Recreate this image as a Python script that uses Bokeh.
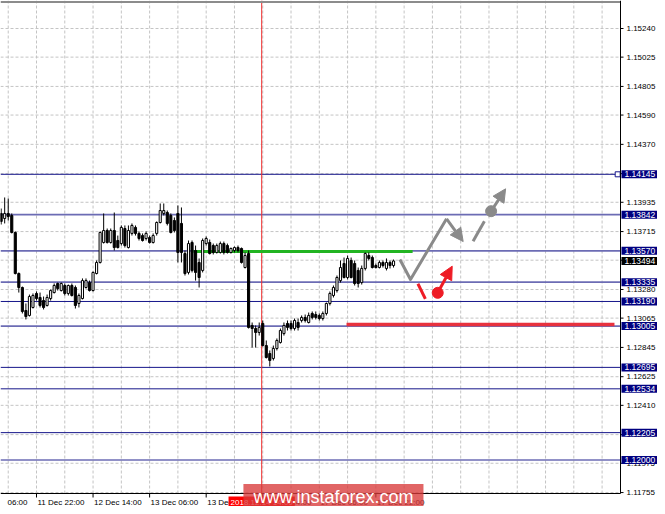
from bokeh.plotting import figure
from bokeh.models import Label, Arrow, NormalHead, Range1d, ColumnDataSource
from bokeh.core.properties import value
from bokeh.embed import file_html
from bokeh.resources import INLINE

# ---------------- data (EURUSD H1, bar index 0 = 11 Dec 22:00) ----------------
first_bar = -10
opens = [1.13851, 1.13813, 1.13851, 1.13836, 1.13708, 1.13400, 1.13295, 1.13122, 1.13085, 1.13145,
         1.13250, 1.13220, 1.13197, 1.13160, 1.13212, 1.13257, 1.13325, 1.13272, 1.13310, 1.13250,
         1.13310, 1.13295, 1.13175, 1.13212, 1.13295, 1.13332, 1.13272, 1.13400, 1.13483, 1.13633,
         1.13723, 1.13633, 1.13723, 1.13648, 1.13625, 1.13738, 1.13595, 1.13701, 1.13746, 1.13701,
         1.13685, 1.13663, 1.13670, 1.13633, 1.13701, 1.13783, 1.13851, 1.13858, 1.13836, 1.13798,
         1.13851, 1.13776, 1.13550, 1.13408, 1.13633, 1.13573, 1.13483, 1.13423, 1.13625, 1.13633,
         1.13610, 1.13558, 1.13558, 1.13625, 1.13610, 1.13558, 1.13573, 1.13595, 1.13588, 1.13445,
         1.13550, 1.13010, 1.12987, 1.12957, 1.13025, 1.12859, 1.12799, 1.12762, 1.12837, 1.12882,
         1.12949, 1.13025, 1.13025, 1.12987, 1.13032, 1.13047, 1.13070, 1.13032, 1.13100, 1.13092,
         1.13085, 1.13062, 1.13100, 1.13175, 1.13235, 1.13272, 1.13347, 1.13475, 1.13370, 1.13498,
         1.13475, 1.13423, 1.13332, 1.13438, 1.13535, 1.13520, 1.13460, 1.13445, 1.13483, 1.13438,
         1.13483, 1.13460]
highs = [1.13888, 1.13971, 1.13963, 1.13851, 1.13716, 1.13408, 1.13302, 1.13175, 1.13242, 1.13250,
         1.13265, 1.13257, 1.13227, 1.13242, 1.13280, 1.13325, 1.13332, 1.13332, 1.13325, 1.13317,
         1.13325, 1.13310, 1.13250, 1.13363, 1.13363, 1.13347, 1.13415, 1.13498, 1.13716, 1.13851,
         1.13738, 1.13738, 1.13858, 1.13685, 1.13761, 1.13761, 1.13761, 1.13776, 1.13761, 1.13716,
         1.13701, 1.13716, 1.13685, 1.13701, 1.13791, 1.13926, 1.13926, 1.13873, 1.13851, 1.13821,
         1.13911, 1.13896, 1.13573, 1.13648, 1.13648, 1.13610, 1.13513, 1.13663, 1.13678, 1.13655,
         1.13625, 1.13625, 1.13640, 1.13640, 1.13625, 1.13595, 1.13603, 1.13610, 1.13595, 1.13558,
         1.13573, 1.13032, 1.13010, 1.13032, 1.13047, 1.12897, 1.12822, 1.12859, 1.12912, 1.12987,
         1.13032, 1.13047, 1.13047, 1.13062, 1.13062, 1.13085, 1.13092, 1.13107, 1.13115, 1.13115,
         1.13100, 1.13115, 1.13182, 1.13265, 1.13310, 1.13385, 1.13498, 1.13520, 1.13535, 1.13520,
         1.13498, 1.13445, 1.13460, 1.13558, 1.13558, 1.13535, 1.13475, 1.13498, 1.13498, 1.13513,
         1.13498, 1.13505]
lows = [1.13768, 1.13776, 1.13798, 1.13701, 1.13393, 1.13257, 1.13100, 1.13055, 1.13077, 1.13137,
        1.13197, 1.13145, 1.13130, 1.13152, 1.13197, 1.13250, 1.13272, 1.13265, 1.13235, 1.13235,
        1.13227, 1.13137, 1.13145, 1.13205, 1.13287, 1.13265, 1.13265, 1.13393, 1.13475, 1.13625,
        1.13625, 1.13625, 1.13573, 1.13588, 1.13610, 1.13595, 1.13588, 1.13685, 1.13685, 1.13648,
        1.13640, 1.13648, 1.13625, 1.13625, 1.13685, 1.13776, 1.13836, 1.13761, 1.13701, 1.13708,
        1.13483, 1.13483, 1.13385, 1.13393, 1.13408, 1.13347, 1.13295, 1.13408, 1.13610, 1.13543,
        1.13543, 1.13550, 1.13550, 1.13543, 1.13550, 1.13550, 1.13558, 1.13558, 1.13475, 1.13438,
        1.12987, 1.12844, 1.12844, 1.12934, 1.12852, 1.12762, 1.12702, 1.12747, 1.12822, 1.12874,
        1.12934, 1.12972, 1.12972, 1.12972, 1.12972, 1.13032, 1.13032, 1.13025, 1.13055, 1.13055,
        1.13047, 1.13047, 1.13085, 1.13160, 1.13220, 1.13257, 1.13332, 1.13363, 1.13355, 1.13363,
        1.13310, 1.13295, 1.13317, 1.13423, 1.13498, 1.13438, 1.13438, 1.13438, 1.13445, 1.13423,
        1.13438, 1.13445]
closes = [1.13791, 1.13851, 1.13828, 1.13708, 1.13400, 1.13295, 1.13115, 1.13077, 1.13227, 1.13235,
          1.13212, 1.13160, 1.13145, 1.13220, 1.13272, 1.13310, 1.13287, 1.13325, 1.13250, 1.13310,
          1.13235, 1.13160, 1.13235, 1.13347, 1.13347, 1.13272, 1.13408, 1.13483, 1.13708, 1.13723,
          1.13633, 1.13723, 1.13595, 1.13595, 1.13746, 1.13610, 1.13723, 1.13761, 1.13701, 1.13663,
          1.13648, 1.13701, 1.13633, 1.13685, 1.13783, 1.13873, 1.13873, 1.13776, 1.13708, 1.13723,
          1.13558, 1.13558, 1.13400, 1.13625, 1.13423, 1.13408, 1.13370, 1.13648, 1.13663, 1.13550,
          1.13558, 1.13610, 1.13625, 1.13558, 1.13558, 1.13588, 1.13595, 1.13573, 1.13483, 1.13535,
          1.12995, 1.12987, 1.12957, 1.12995, 1.12859, 1.12769, 1.12747, 1.12837, 1.12897, 1.12972,
          1.13010, 1.12995, 1.12987, 1.13047, 1.12995, 1.13070, 1.13047, 1.13085, 1.13070, 1.13070,
          1.13062, 1.13100, 1.13175, 1.13250, 1.13295, 1.13370, 1.13445, 1.13370, 1.13513, 1.13370,
          1.13325, 1.13325, 1.13438, 1.13550, 1.13513, 1.13445, 1.13445, 1.13483, 1.13460, 1.13483,
          1.13460, 1.13494]

time_tick_bars = [-16, 0, 16, 32, 48, 64, 80, 96]
time_tick_labels = ["11 Dec 06:00", "11 Dec 22:00", "12 Dec 14:00", "13 Dec 06:00",
                    "13 Dec 22:00", "14 Dec 14:00", "17 Dec 06:00", "17 Dec 22:00"]
price_grid = [1.15240, 1.15025, 1.14805, 1.14590, 1.14370, 1.14150, 1.13935, 1.13715, 1.13500,
              1.13280, 1.13065, 1.12845, 1.12625, 1.12410, 1.12190, 1.11975, 1.11755]
levels_dark = [1.14145, 1.13190, 1.12695, 1.12534, 1.12205]
levels_light = [1.13842, 1.13570, 1.13335, 1.13005, 1.12000]
current_price = 1.13494

green_level, green_bars = 1.13565, (44.4, 106.4)
red_level, red_bars = 1.13017, (87.7, 163.5)
marker_bar, marker_text = 63.7, "2018.12.14 14:00"

# forecast scheme (bar index, price)
gray_path_x = [102.8, 105.8, 116.0]
gray_path_y = [1.13505, 1.13355, 1.13811]
gray_head = (120.7, 1.13640)
gray_dash_x = [123.5, 126.7]
gray_dash_y = [1.13643, 1.13793]
gray_dot = (128.6, 1.13868)
gray_dot_head = (132.7, 1.14036)
red_dash_x = [107.9, 110.0]
red_dash_y = [1.13323, 1.13210]
red_dot = (113.5, 1.13255)
red_dot_head = (117.6, 1.13455)

watermark = "www.instaforex.com"

# ---------------- layout constants ----------------
W, H = 657, 506
BAR_PX = 3.535                 # pixels per hourly bar
PRICE_PX = 0.0000751           # price per pixel
X0 = -36 / BAR_PX              # left edge of the canvas
X1 = X0 + W / BAR_PX           # right edge of the canvas
XA = X0 + 620 / BAR_PX         # price-axis line
Y1 = 1.154503                  # top of the canvas
Y0 = Y1 - H * PRICE_PX         # bottom of the canvas
YA = Y1 - 493 * PRICE_PX       # time-axis line
FONT = "Liberation Sans"

p = figure(width=W, height=H, x_range=Range1d(X0, X1), y_range=Range1d(Y0, Y1),
           x_axis_location=None, y_axis_location=None, output_backend="svg",
           toolbar_location=None, min_border=0,
           background_fill_color="white", border_fill_color="white")
p.outline_line_color = None
p.grid.visible = False

# ---- grid (dashed) ----
grid_bars = [b for b in range(-8, 176, 8) if b < XA]
p.segment(x0=grid_bars, y0=[YA] * len(grid_bars), x1=grid_bars, y1=[Y1] * len(grid_bars),
          line_color="#c4c4c4", line_dash="3 2", line_width=1)
p.segment(x0=[X0] * len(price_grid), y0=price_grid, x1=[XA] * len(price_grid), y1=price_grid,
          line_color="#c4c4c4", line_dash="3 2", line_width=1)

# ---- level lines ----
p.segment(x0=[X0] * 5, y0=levels_light, x1=[XA] * 5, y1=levels_light,
          line_color="#6c6cb4", line_width=1.6)
p.segment(x0=[X0] * 5, y0=levels_dark, x1=[XA] * 5, y1=levels_dark,
          line_color="#16168a", line_width=1)
p.scatter([XA - 0.8], [levels_dark[0]], marker="square", size=5,
          fill_color="white", line_color="#16168a", line_width=1)

# vertical time marker
p.segment(x0=[marker_bar], y0=[YA], x1=[marker_bar], y1=[Y1], line_color="#f03030", line_width=1)

# green / red zones
p.line(list(green_bars), [green_level] * 2, line_color="#22b422", line_width=3)
p.line(list(red_bars), [red_level] * 2, line_color="#e8323e", line_width=3.5)

# ---- candles ----
n = len(opens)
bars = list(range(first_bar, first_bar + n))
src = ColumnDataSource(dict(
    x=bars, high=highs, low=lows,
    top=[max(o, c) for o, c in zip(opens, closes)],
    bottom=[min(o, c) for o, c in zip(opens, closes)],
    fill=["white" if c > o else "black" for o, c in zip(opens, closes)],
))
p.segment(x0="x", y0="low", x1="x", y1="high", source=src, line_color="black", line_width=1)
p.vbar(x="x", width=0.6, top="top", bottom="bottom", fill_color="fill",
       line_color="black", line_width=1, source=src)

# ---- forecast arrows ----
GRAY, RED = "#8a8a8a", "#ee1c25"
p.line(gray_path_x, gray_path_y, line_color=GRAY, line_width=3, line_join="round")
p.add_layout(Arrow(end=NormalHead(size=13, fill_color=GRAY, line_color=GRAY),
                   x_start=gray_path_x[-1], y_start=gray_path_y[-1],
                   x_end=gray_head[0], y_end=gray_head[1], line_color=GRAY, line_width=3))
p.line(gray_dash_x, gray_dash_y, line_color=GRAY, line_width=3)
p.scatter([gray_dot[0]], [gray_dot[1]], size=11, fill_color=GRAY, line_color=GRAY)
p.add_layout(Arrow(end=NormalHead(size=13, fill_color=GRAY, line_color=GRAY),
                   x_start=gray_dot[0], y_start=gray_dot[1],
                   x_end=gray_dot_head[0], y_end=gray_dot_head[1], line_color=GRAY, line_width=3))
p.line(red_dash_x, red_dash_y, line_color=RED, line_width=3)
p.scatter([red_dot[0]], [red_dot[1]], size=11, fill_color=RED, line_color=RED)
p.add_layout(Arrow(end=NormalHead(size=13, fill_color=RED, line_color=RED),
                   x_start=red_dot[0], y_start=red_dot[1],
                   x_end=red_dot_head[0], y_end=red_dot_head[1], line_color=RED, line_width=3))

# ---- axes (frame lines, ticks, tick labels) ----
p.segment(x0=[X0], y0=[Y1 - 1.5 * PRICE_PX], x1=[XA], y1=[Y1 - 1.5 * PRICE_PX],
          line_color="#8c8c8c", line_width=2)
p.segment(x0=[XA], y0=[YA], x1=[XA], y1=[Y1], line_color="black", line_width=1)
p.segment(x0=[X0], y0=[YA], x1=[XA], y1=[YA], line_color="black", line_width=1)
# price ticks + labels
p.segment(x0=[XA] * len(price_grid), y0=price_grid, x1=[XA + 3 / BAR_PX] * len(price_grid),
          y1=price_grid, line_color="black", line_width=1)
p.text(x=[XA] * len(price_grid), y=price_grid, text=[f"{v:.5f}" for v in price_grid],
       x_offset=6, text_align="left", text_baseline="middle", text_color="black",
       text_font=value(FONT), text_font_size="8px")
# time ticks + labels
vis = [(b, t) for b, t in zip(time_tick_bars, time_tick_labels) if b > X0]
vb = [b for b, _ in vis]
p.segment(x0=vb, y0=[YA] * len(vb), x1=vb, y1=[YA - 4 * PRICE_PX] * len(vb),
          line_color="black", line_width=1)
p.text(x=vb, y=[YA] * len(vb), text=[t for _, t in vis],
       x_offset=1, y_offset=4, text_align="left", text_baseline="top", text_color="black",
       text_font=value(FONT), text_font_size="8px")
# label of the tick just left of the chart: only its time part is visible
p.text(x=[X0], y=[YA], text=[time_tick_labels[0].split()[-1]],
       x_offset=7, y_offset=4, text_align="left", text_baseline="top", text_color="black",
       text_font=value(FONT), text_font_size="8px")

# ---- price boxes on the axis ----
for lv in levels_dark + levels_light:
    p.add_layout(Label(x=XA, y=lv, x_offset=1, text=f"{lv:.5f}", text_font=FONT,
                       text_font_size="8.5px", text_color="white", text_align="left",
                       text_baseline="middle", background_fill_color="#000080", padding=(3, 1)))
p.add_layout(Label(x=XA, y=current_price, x_offset=1, text=f"{current_price:.5f}", text_font=FONT,
                   text_font_size="8.5px", text_color="white", text_align="left",
                   text_baseline="middle", background_fill_color="black", padding=(3, 1)))

# time marker box
p.add_layout(Label(x=marker_bar, y=YA - 8.5 * PRICE_PX, text=marker_text, text_font=FONT,
                   text_font_size="8px", text_color="white", text_align="center",
                   text_baseline="middle", background_fill_color="#ff0000", padding=(2, 1)))

# watermark
p.add_layout(Label(x=84.0, y=YA - 3.5 * PRICE_PX, text=watermark, text_font=FONT,
                   text_font_size="18px", text_color="white", text_align="center",
                   text_baseline="middle", background_fill_color="#d93a3a",
                   background_fill_alpha=0.78, padding=(10, 3)))

open("out.html", "w").write(file_html(p, INLINE))
